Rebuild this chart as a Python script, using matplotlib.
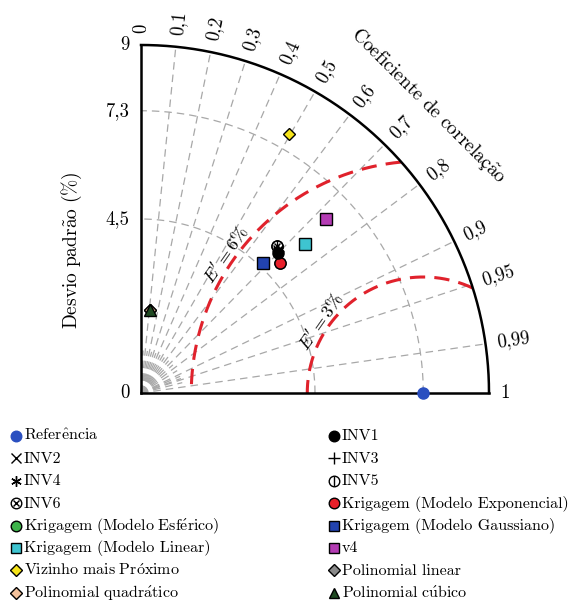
import numpy as np
import matplotlib.pyplot as plt

plt.rcParams['font.family'] = ['cmr10', 'DejaVu Serif']
plt.rcParams['mathtext.fontset'] = 'cm'
plt.rcParams['axes.unicode_minus'] = False

# --- data ---
std_max = 9.0
ref_std = 7.3
std_ticks = [0, 4.5, 7.3, 9]
std_tick_labels = ['0', '4,5', '7,3', '9']
std_grid = [4.5, 7.3]
corr_ticks = [0, 0.1, 0.2, 0.3, 0.4, 0.5, 0.6, 0.7, 0.8, 0.9, 0.95, 0.99, 1]
corr_tick_labels = ['0', '0,1', '0,2', '0,3', '0,4', '0,5', '0,6', '0,7',
                    '0,8', '0,9', '0,95', '0,99', '1']
corr_fan = [0.05, 0.15, 0.25, 0.35, 0.45, 0.55, 0.65, 0.75, 0.85,
            0.92, 0.94, 0.97]
rms_levels = [3, 6]
rms_labels = ["$E' = 3\\%$", "$E' = 6\\%$"]

model_names = ['INV1', 'INV2', 'INV3', 'INV4', 'INV5', 'INV6',
               'Krigagem (Modelo Exponencial)', 'Krigagem (Modelo Esférico)',
               'Krigagem (Modelo Gaussiano)', 'Krigagem (Modelo Linear)',
               'v4', 'Vizinho mais Próximo', 'Polinomial linear',
               'Polinomial quadrático', 'Polinomial cúbico']
model_std = [5.08, 5.12, 5.10, 5.12, 5.17, 5.17,
             4.92, 4.92, 4.61, 5.73, 6.56, 7.71, 2.15, 2.15, 2.17]
model_corr = [0.70, 0.69, 0.695, 0.69, 0.68, 0.68,
              0.73, 0.73, 0.684, 0.74, 0.729, 0.496, 0.11, 0.11, 0.105]
# drawing order on the diagram (Esférico hidden under Exponencial)
plot_order = [7, 6, 0, 1, 2, 3, 4, 5, 8, 9, 10, 11, 12, 13, 14]

# marker styles: list of (marker, facecolor, edgecolor, size) layers
styles = {
    'Referência': [('o', '#2a4fc0', '#2a4fc0', 8)],
    'INV1': [('o', 'black', 'black', 8)],
    'INV2': [('x', 'none', 'black', 7)],
    'INV3': [('+', 'none', 'black', 9)],
    'INV4': [((6, 2, 0), 'none', 'black', 8)],
    'INV5': [('o', 'none', 'black', 8), ('|', 'none', 'black', 8)],
    'INV6': [('o', 'none', 'black', 8), ('x', 'none', 'black', 5)],
    'Krigagem (Modelo Esférico)': [('o', '#3db34a', 'black', 8)],
    'Krigagem (Modelo Exponencial)': [('o', '#e8202a', 'black', 8)],
    'Krigagem (Modelo Gaussiano)': [('s', '#2243b0', 'black', 8)],
    'Krigagem (Modelo Linear)': [('s', '#3ec4d0', 'black', 8)],
    'v4': [('s', '#b43cb4', 'black', 8)],
    'Vizinho mais Próximo': [('D', '#f6e41a', 'black', 6)],
    'Polinomial linear': [('D', '#8a8a8a', 'black', 6)],
    'Polinomial quadrático': [('D', '#f4c29c', 'black', 6)],
    'Polinomial cúbico': [('^', '#1f4a22', 'black', 8)],
}

ACCENTS = {'ê': r'\hat{e}', 'ó': r'\acute{o}', 'é': r'\acute{e}',
           'á': r'\acute{a}', 'ú': r'\acute{u}', 'ã': r'\tilde{a}',
           ' ': r'\ ', '%': r'\%'}


def cm(s):
    # Computer Modern look; accented words go through mathtext
    if all(ord(ch) < 128 for ch in s) and '%' not in s:
        return s
    return '$\\mathrm{' + ''.join(ACCENTS.get(ch, ch) for ch in s) + '}$'


fig = plt.figure(figsize=(5.72, 6.03), dpi=100)
ax = fig.add_axes([141 / 572, (603 - 393) / 603, 348 / 572, 348 / 603])
ax.set_xlim(0, std_max)
ax.set_ylim(0, std_max)
ax.axis('off')

grid_kw = dict(color='#a8a8a8', lw=0.9, ls=(0, (6, 4)), zorder=1, clip_on=False)

# radial correlation lines
for c in corr_ticks[1:-1]:
    th = np.arccos(c)
    ax.plot([0, std_max * np.cos(th)], [0, std_max * np.sin(th)], **grid_kw)
for c in corr_fan:
    th = np.arccos(c)
    ax.plot([0, 1.1 * np.cos(th)], [0, 1.1 * np.sin(th)], **grid_kw)

# std arcs
t = np.linspace(0, np.pi / 2, 300)
for s in std_grid:
    ax.plot(s * np.cos(t), s * np.sin(t), **grid_kw)

# RMS contours centred on the reference
for lev, lab in zip(rms_levels, rms_labels):
    phi = np.linspace(0, np.pi, 600)
    x = ref_std + lev * np.cos(phi)
    y = lev * np.sin(phi)
    inside = np.hypot(x, y) <= std_max
    ax.plot(x[inside], y[inside], color='#e0222c', lw=2.2, ls=(0, (5, 3)),
            zorder=2, clip_on=False)
    pa = np.radians(145)
    ax.text(ref_std + (lev + 0.22) * np.cos(pa), (lev + 0.22) * np.sin(pa), lab,
            rotation=np.degrees(pa) - 90, ha='center', va='center',
            fontsize=13, zorder=3)

# frame
ax.plot([0, 0], [0, std_max], color='black', lw=1.8, zorder=4, clip_on=False)
ax.plot([0, std_max], [0, 0], color='black', lw=1.8, zorder=4, clip_on=False)
ax.plot(std_max * np.cos(t), std_max * np.sin(t), color='black', lw=1.8,
        zorder=4, clip_on=False)

# std tick labels
for s, lab in zip(std_ticks, std_tick_labels):
    ax.text(-0.3, s, lab, ha='right', va='center', fontsize=13.5)

# correlation tick labels
for c, lab in zip(corr_ticks, corr_tick_labels):
    th = np.arccos(c)
    ax.text(9.3 * np.cos(th), 9.3 * np.sin(th), lab, rotation=np.degrees(th),
            rotation_mode='anchor', ha='left', va='center', fontsize=13.5)

ax.text(7.42, 7.44, cm('Coeficiente de correlação'), rotation=-45,
        ha='center', va='center', fontsize=14)
ax.text(-1.78, 3.7, cm('Desvio padrão (%)'), rotation=90,
        ha='center', va='center', fontsize=14)


def draw(axis, name, x, y, z, scale=1.0):
    for m, fc, ec, ms in styles[name]:
        axis.plot(x, y, ls='none', marker=m, mfc=fc, mec=ec, ms=ms * scale,
                  mew=1.0, zorder=z, clip_on=False)


draw(ax, 'Referência', ref_std, 0, 6)
for j, i in enumerate(plot_order):
    th = np.arccos(model_corr[i])
    draw(ax, model_names[i], model_std[i] * np.cos(th),
         model_std[i] * np.sin(th), 6 + j * 0.01)

# --- legend, two columns filled row by row, in pixel coordinates ---
lax = fig.add_axes([0, 0, 1, 1])
lax.set_xlim(0, 572)
lax.set_ylim(603, 0)
lax.axis('off')

all_names = ['Referência'] + model_names
col_x = [16, 334]
row_y0, row_dy = 436, 22.4
for k, name in enumerate(all_names):
    col, row = k % 2, k // 2
    yy = row_y0 + row * row_dy
    draw(lax, name, col_x[col], yy, 5, scale=0.95)
    lax.text(col_x[col] + 8, yy + 4.5, cm(name), ha='left', va='baseline',
             fontsize=11.5)

fig.savefig('out.png', dpi=100)
